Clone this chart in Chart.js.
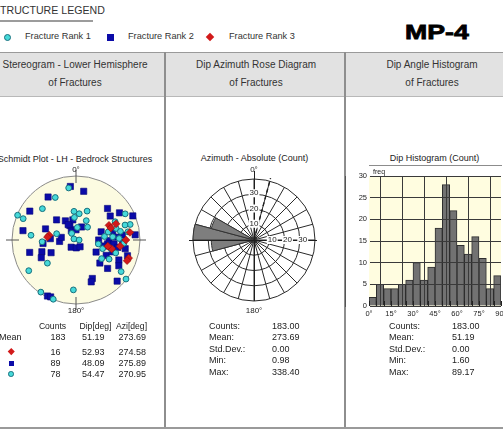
<!DOCTYPE html>
<html lang="en">
<head>
<meta charset="utf-8">
<title>MP-4 Fracture Summary</title>
<script src="https://cdn.jsdelivr.net/npm/chart.js@4.4.1/dist/chart.umd.min.js"></script>
<style>
html,body{margin:0;padding:0;background:#fff}
body{position:relative;width:503px;height:429px;overflow:hidden;font-family:"Liberation Sans",Arial,sans-serif;color:#222}
.t{position:absolute;white-space:nowrap;line-height:1}
.box{position:absolute}
canvas{position:absolute}
</style>
</head>
<body>
<div class="box" style="left:0;top:52px;width:503px;height:43px;background:#e2e2e2;border-top:1px solid #9a9a9a;border-bottom:1px solid #b8b8b8"></div>
<div class="box" style="left:164px;top:52px;width:2px;height:377px;background:#8e8e8e"></div>
<div class="box" style="left:344px;top:52px;width:2px;height:377px;background:#8e8e8e"></div>
<div class="box" style="left:0;top:427px;width:503px;height:2px;background:#9a9a9a"></div>
<div class="box" style="left:0;top:20px;width:93px;height:1.5px;background:#9c9c9c"></div>

<canvas id="stereo" width="148" height="148" style="left:2px;top:166px"></canvas>
<canvas id="rose" width="140" height="140" style="left:184px;top:170px"></canvas>
<canvas id="hist" width="158" height="160" style="left:345px;top:165px"></canvas>

<script>
// ---- Fracture poles (dip direction °, dip °) by rank ----
const rank1DipDir = [172,154,133,113,112,96,87,108,51,57,34,21,3,176,201,176,208,222,186,147,117,270,242,254,253,254,259,263,265,268,284,288,306,300,305,308,187,245,256,274,280,288,261];
const rank1Dip    = [71,63,61,89,78,60,44,26,48,77,88,89,67,37,40,29,28,22,16,10,3,4,76,77,69,55,60,37,48,57,47,36,41,50,75,89,34,57,43,64,29,55,71];
const rank2DipDir = [174,189,147,122,136,100,110,84,93,85,151,157,75,71,63,63,27,24,153,34,358,171,153,180,203,329,100,225,235,238,247,265,264,271,277,276,280,301,297,312,295,301,337,340,315,258,266,273,280,287,270,252,282,288,314];
const rank2Dip    = [73,66,69,74,36,73,42,43,33,21,28,20,64,47,36,51,88,87,13,11,10,26,22,13,18,10,19,59,55,69,86,82,62,43,41,50,56,30,44,56,63,67,55,59,80,49,53,62,67,73,29,34,37,50,43];
const rank3DipDir = [100,96,246,248,251,270,289,292,284,281,278,262];
const rank3Dip    = [35,37,47,57,48,67,76,75,48,42,59,74];

// ---- Dip azimuth rose (15° sectors, clockwise from north) ----
const roseSectorStart = [0,15,30,45,60,75,90,105,120,135,150,165,180,195,210,225,240,255,270,285,300,315,330,345];
const roseCounts      = [1,0,0,0,0,0,0,0,0,0,0,0,0,1,2,2,3,28,40,29,3,2,1,0];
const roseRingValues  = [10,20,30];
const roseMarkerAzimuth = 15;

// ---- Dip angle histogram (5° bins) ----
const dipBinCentres = [2.5,7.5,12.5,17.5,22.5,27.5,32.5,37.5,42.5,47.5,52.5,57.5,62.5,67.5,72.5,77.5,82.5,87.5];
const dipCounts     = [2,5,4,4,5,6,10,6,9,18,28,22,14,12,16,11,4,7];

// ---- Summary statistics ----
const tableHeads   = ['Counts','Dip[deg]','Azi[deg]'];
const rankCounts   = ['183','16','89','78'];
const rankMeanDip  = ['51.19','52.93','48.09','54.47'];
const rankMeanAzi  = ['273.69','274.58','275.89','270.95'];
const statLabels   = ['Counts:','Mean:','Std.Dev.:','Min:','Max:'];
const aziStats     = ['183.00','273.69','0.00','0.98','338.40'];
const dipStats     = ['183.00','51.19','0.00','1.60','89.17'];

const C1 = {fill:'#46d9d9', edge:'#17707e'};
const C2 = {fill:'#0b0ba8', edge:'#07077a'};
const C3 = {fill:'#d21a1a', edge:'#8e0c0c'};

function addText(str, x, y, size, align, extra) {
  const d = document.createElement('div');
  d.className = 't';
  d.textContent = str;
  d.style.left = x + 'px';
  d.style.top = y + 'px';
  d.style.fontSize = size + 'px';
  d.style.transform = align === 'center' ? 'translate(-50%,-50%)' : 'translateY(-50%)';
  if (extra) Object.assign(d.style, extra);
  document.body.appendChild(d);
  return d;
}
function addSymbol(kind, cx, cy, s) {
  const d = document.createElement('div');
  d.className = 'box';
  d.style.left = (cx - s / 2) + 'px';
  d.style.top = (cy - s / 2) + 'px';
  d.style.width = s + 'px';
  d.style.height = s + 'px';
  d.style.boxSizing = 'border-box';
  if (kind === 1) { d.style.background = C1.fill; d.style.border = '1px solid ' + C1.edge; d.style.borderRadius = '50%'; }
  if (kind === 2) { d.style.background = C2.fill; }
  if (kind === 3) { d.style.background = C3.fill; d.style.transform = 'rotate(45deg)'; }
  document.body.appendChild(d);
}

// ---- Legend and headings ----
addText('STRUCTURE LEGEND', -7, 10, 10.6, 'left', {color:'#333'});
addSymbol(1, 7, 37, 7);   addText('Fracture Rank 1', 25, 37, 9.2, 'left', {color:'#333'});
addSymbol(2, 110, 37, 7); addText('Fracture Rank 2', 128, 37, 9.2, 'left', {color:'#333'});
addSymbol(3, 210, 37, 6); addText('Fracture Rank 3', 229, 37, 9.2, 'left', {color:'#333'});
addText('MP-4', 405, 31, 21, 'left', {fontWeight:'bold', color:'#000', transform:'translateY(-50%) scaleX(1.27)', transformOrigin:'left center', webkitTextStroke:'0.8px #000'});

addText('Stereogram - Lower Hemisphere', 75, 64.5, 10, 'center', {color:'#333'});
addText('of Fractures', 75, 82.5, 10, 'center', {color:'#333'});
addText('Dip Azimuth Rose Diagram', 256, 64.5, 10, 'center', {color:'#333'});
addText('of Fractures', 256, 82.5, 10, 'center', {color:'#333'});
addText('Dip Angle Histogram', 432, 64.5, 10, 'center', {color:'#333'});
addText('of Fractures', 432, 82.5, 10, 'center', {color:'#333'});

addText('Schmidt Plot - LH - Bedrock Structures', 75, 159, 9, 'center');
addText('Azimuth - Absolute (Count)', 254.5, 158, 9, 'center');
addText('Dip Histogram (Count)', 434.5, 158, 9, 'center');
addText('0°', 76, 169.5, 8, 'center');
addText('180°', 76, 311, 8, 'center');
addText('0°', 254, 169.5, 8, 'center');
addText('180°', 254, 311, 8, 'center');
addText('freq', 373, 171, 7, 'left');

// ---- Stereogram table ----
const colCentre = [52.5, 95.5, 131.5];
tableHeads.forEach((h, i) => addText(h, colCentre[i], 326, 8.6, 'center'));
const rowY = [337, 351.7, 363.3, 374];
const valLeft = [50.5, 82, 118.5];
rankCounts.forEach((v, i) => {
  addText(v, valLeft[0], rowY[i], 9, 'left');
  addText(rankMeanDip[i], valLeft[1], rowY[i], 9, 'left');
  addText(rankMeanAzi[i], valLeft[2], rowY[i], 9, 'left');
});
addText('Mean', -1, 337, 9, 'left');
addSymbol(3, 11, 351.7, 4.5);
addSymbol(2, 11, 363.3, 5);
addSymbol(1, 11, 374, 5.5);

// ---- Rose and histogram statistics ----
const statY = [325.6, 337, 348.8, 360.4, 372];
statLabels.forEach((s, i) => {
  addText(s, 209, statY[i], 9, 'left');
  addText(aziStats[i], 272, statY[i], 9, 'left');
  addText(s, 389, statY[i], 9, 'left');
  addText(dipStats[i], 452, statY[i], 9, 'left');
});

Chart.defaults.font.family = '"Liberation Sans", Arial, sans-serif';
Chart.defaults.color = '#222';

// Equal-area (Schmidt) lower-hemisphere projection of a plane's pole
function poles(dipDir, dip) {
  return dipDir.map((az, i) => {
    const trend = ((az + 180) % 360) * Math.PI / 180;
    const r = Math.SQRT2 * Math.sin(dip[i] * Math.PI / 360);
    return {x: r * Math.sin(trend), y: r * Math.cos(trend)};
  });
}

const netPlugin = {
  id: 'schmidtNet',
  beforeDatasetsDraw(chart) {
    const {ctx, scales: {x, y}} = chart;
    const cx = x.getPixelForValue(0), cy = y.getPixelForValue(0);
    const R = x.getPixelForValue(1) - cx;
    ctx.save();
    ctx.beginPath();
    ctx.arc(cx, cy, R, 0, Math.PI * 2);
    ctx.fillStyle = '#fcfbe1';
    ctx.fill();
    ctx.strokeStyle = '#8a8a8a';
    ctx.lineWidth = 1;
    ctx.stroke();
    ctx.strokeStyle = '#555';
    ctx.beginPath();
    [[0, -1], [0, 1], [-1, 0], [1, 0]].forEach(([dx, dy]) => {
      ctx.moveTo(cx + dx * (R - 7), cy + dy * (R - 7));
      ctx.lineTo(cx + dx * (R + 6), cy + dy * (R + 6));
    });
    ctx.stroke();
    ctx.restore();
  }
};

new Chart(document.getElementById('stereo'), {
  type: 'scatter',
  data: {
    datasets: [
      {label: 'Fracture Rank 1', data: poles(rank1DipDir, rank1Dip), pointStyle: 'circle', pointRadius: 2.9,
       backgroundColor: C1.fill, borderColor: C1.edge, borderWidth: 1, order: 1, clip: false},
      {label: 'Fracture Rank 2', data: poles(rank2DipDir, rank2Dip), pointStyle: 'rect', pointRadius: 4.4,
       backgroundColor: C2.fill, borderColor: C2.edge, borderWidth: 0.6, order: 2, clip: false},
      {label: 'Fracture Rank 3', data: poles(rank3DipDir, rank3Dip), pointStyle: 'rectRot', pointRadius: 3.9,
       backgroundColor: C3.fill, borderColor: C3.edge, borderWidth: 0.6, order: 0, clip: false}
    ]
  },
  options: {
    responsive: false, animation: false, events: [], devicePixelRatio: 1,
    layout: {padding: 10, autoPadding: false},
    scales: {
      x: {type: 'linear', min: -1, max: 1, display: false},
      y: {type: 'linear', min: -1, max: 1, display: false}
    },
    plugins: {legend: {display: false}, tooltip: {enabled: false}}
  },
  plugins: [netPlugin]
});

const rosePlugin = {
  id: 'roseAxes',
  afterDraw(chart) {
    const s = chart.scales.r, ctx = chart.ctx;
    const cx = s.xCenter, cy = s.yCenter, R = s.getDistanceFromCenterForValue(s.max);
    ctx.save();
    ctx.strokeStyle = '#1e1e1e';
    ctx.lineWidth = 1;
    ctx.beginPath();
    ctx.moveTo(cx + 0.5, cy - R - 8); ctx.lineTo(cx + 0.5, cy + R);
    ctx.moveTo(cx - R - 4, cy + 0.5); ctx.lineTo(cx + R + 2, cy + 0.5);
    ctx.stroke();
    const a = roseMarkerAzimuth * Math.PI / 180;
    ctx.setLineDash([4, 3]);
    ctx.lineWidth = 1.4;
    ctx.beginPath();
    ctx.moveTo(cx, cy);
    ctx.lineTo(cx + Math.sin(a) * (R + 3), cy - Math.cos(a) * (R + 3));
    ctx.stroke();
    ctx.setLineDash([]);
    ctx.font = '8px "Liberation Sans", Arial, sans-serif';
    ctx.textAlign = 'center';
    ctx.textBaseline = 'middle';
    roseRingValues.forEach(v => {
      const d = s.getDistanceFromCenterForValue(v);
      const txt = String(v);
      const w = ctx.measureText(txt).width;
      [[cx, cy - d - 1], [cx + d + 3, cy]].forEach(([tx, ty]) => {
        ctx.fillStyle = '#fff';
        ctx.fillRect(tx - w / 2 - 1, ty - 4, w + 2, 8);
        ctx.fillStyle = '#222';
        ctx.fillText(txt, tx, ty);
      });
    });
    ctx.restore();
  }
};

new Chart(document.getElementById('rose'), {
  type: 'polarArea',
  data: {
    labels: roseSectorStart.map(a => a + '°'),
    datasets: [{data: roseCounts, backgroundColor: '#7e7e7e', borderColor: '#333', borderWidth: 1}]
  },
  options: {
    responsive: false, animation: false, events: [], devicePixelRatio: 1,
    layout: {padding: 9, autoPadding: false},
    startAngle: 0,
    scales: {
      r: {
        min: 0, max: 40,
        ticks: {display: false, stepSize: 10, z: 1},
        grid: {circular: true, color: '#2a2a2a', lineWidth: 1},
        angleLines: {display: true, color: '#2a2a2a', lineWidth: 1},
        pointLabels: {display: false}
      }
    },
    plugins: {legend: {display: false}, tooltip: {enabled: false}}
  },
  plugins: [rosePlugin]
});

const histPlugin = {
  id: 'histFrame',
  beforeDraw(chart) {
    const {ctx, chartArea: a} = chart;
    ctx.save();
    ctx.fillStyle = '#fffde0';
    ctx.fillRect(a.left, a.top, a.right - a.left, a.bottom - a.top);
    ctx.restore();
  },
  afterDraw(chart) {
    const {ctx, chartArea: a, scales: {x}} = chart;
    ctx.save();
    ctx.strokeStyle = '#222';
    ctx.lineWidth = 1;
    ctx.beginPath();
    for (let d = x.min; d <= x.max; d += 5) {
      const px = Math.round(x.getPixelForValue(d)) + 0.5;
      ctx.moveTo(px, a.bottom);
      ctx.lineTo(px, a.bottom - 5);
    }
    ctx.stroke();
    ctx.restore();
  }
};

function noLabelPadding(s) {
  s.paddingLeft = 0; s.paddingRight = 0; s.paddingTop = 0; s.paddingBottom = 0;
}

new Chart(document.getElementById('hist'), {
  type: 'bar',
  data: {
    datasets: [{
      data: dipBinCentres.map((c, i) => ({x: c, y: dipCounts[i]})),
      backgroundColor: '#727272', borderColor: '#2e2e2e', borderWidth: 1,
      barPercentage: 1, categoryPercentage: 1
    }]
  },
  options: {
    responsive: false, animation: false, events: [], devicePixelRatio: 1,
    layout: {padding: {top: 11, right: 2, left: 0, bottom: 0}, autoPadding: false},
    scales: {
      x: {
        type: 'linear', min: 0, max: 90, offset: false,
        grid: {color: '#3a3a3a', z: 1, drawTicks: false},
        border: {color: '#1a1a1a'},
        ticks: {stepSize: 15, autoSkip: false, maxRotation: 0, padding: 3, font: {size: 7.5}, callback: v => v + '°'},
        afterFit: s => { s.height = 19; noLabelPadding(s); }
      },
      y: {
        min: 0, max: 30,
        grid: {color: '#3a3a3a', z: 1, drawTicks: false},
        border: {color: '#1a1a1a'},
        ticks: {stepSize: 5, padding: 2, font: {size: 7.5}},
        afterFit: s => { s.width = 24; noLabelPadding(s); }
      }
    },
    plugins: {legend: {display: false}, tooltip: {enabled: false}}
  },
  plugins: [histPlugin]
});
</script>
</body>
</html>
